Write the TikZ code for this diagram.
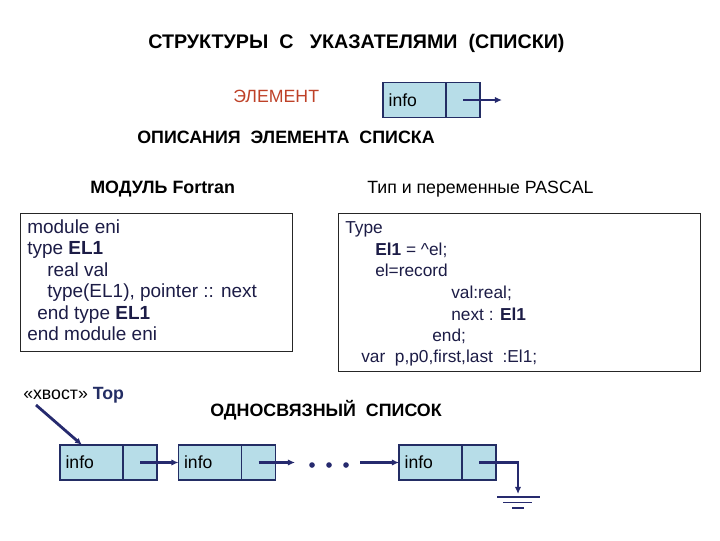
\documentclass[tikz,border=0pt]{standalone}
\usepackage{fontspec}
\setmainfont{Liberation Sans}
\usetikzlibrary{arrows.meta,positioning,calc}

\definecolor{boxfill}{RGB}{183,221,232}
\definecolor{boxline}{RGB}{35,45,100}
\definecolor{linkcol}{RGB}{38,42,110}
\definecolor{codecol}{RGB}{28,28,70}
\definecolor{elemred}{RGB}{190,65,40}

\tikzset{
  infocell/.style={draw=boxline,fill=boxfill,line width=1pt,outer sep=0pt,
    minimum height=0.875cm,text width=1.295cm,inner xsep=0.14cm,align=left,
    font=\fontsize{12.5}{14}\selectfont},
  ptrcell/.style={draw=boxline,fill=boxfill,line width=1pt,outer sep=0pt,
    minimum height=0.875cm,minimum width=0.85cm},
  link/.style={draw=linkcol,line width=1.5pt,-{Latex[length=5pt,width=4.5pt]}},
  head/.style={anchor=base west,inner sep=0pt,font=\bfseries\fontsize{12.7}{15}\selectfont},
  plain/.style={anchor=base west,inner sep=0pt,font=\fontsize{12.6}{15}\selectfont},
  fcode/.style={anchor=base west,inner sep=0pt,text=codecol,font=\fontsize{13.5}{15}\selectfont},
  pcode/.style={anchor=base west,inner sep=0pt,text=codecol,font=\fontsize{12.3}{15}\selectfont},
  codebox/.style={draw=black!85,line width=0.7pt},
}

\begin{document}
\begin{tikzpicture}[x=0.025cm,y=-0.025cm]
  \useasboundingbox (0,0) rectangle (720,540);
  % заголовок
  \node[head,font=\bfseries\fontsize{14}{16}\selectfont] (title) at (148,48)
    {СТРУКТУРЫ\ \ С\ \ \ УКАЗАТЕЛЯМИ\ \ (СПИСКИ)};
  % один элемент списка
  \node[plain,text=elemred] (elem) at (233,102) {ЭЛЕМЕНТ};
  \node[infocell] (e0) at (414.5,100) {info};
  \node[ptrcell,right=0pt of e0] (p0) {};
  \coordinate (p0end) at (502,100);
  \draw[link] (p0.center) -- (p0end);
  \node[head] (descr) at (137,143) {ОПИСАНИЯ\ \ ЭЛЕМЕНТА\ \ СПИСКА};
  % описание на Fortran
  \node[head] (fhead) at (90,193) {МОДУЛЬ Fortran};
  \draw[codebox] (20,213) rectangle (292,351);
  \node[fcode] (f1) at (27,233) {module eni};
  \node[fcode] (f2) at (27,254) {type \textbf{EL1}};
  \node[fcode] (f3) at (47,276) {real val};
  \node[fcode] (f4) at (47,297) {type(EL1), pointer :: next};
  \node[fcode] (f5) at (37,319) {end type \textbf{EL1}};
  \node[fcode] (f6) at (27,340) {end module eni};
  % описание на Pascal
  \node[plain] (phead) at (367,193) {Тип и переменные PASCAL};
  \draw[codebox] (338,213) rectangle (700,371);
  \node[pcode] (q1) at (345,233) {Type};
  \node[pcode] (q2) at (375,255) {\textbf{El1} = \textasciicircum el;};
  \node[pcode] (q3) at (375,276) {el=record};
  \node[pcode] (q4) at (451,298) {val:real;};
  \node[pcode] (q5) at (451,320) {next : \textbf{El1}};
  \node[pcode] (q6) at (432,341) {end;};
  \node[pcode] (q7) at (361,362) {var\ \ p,p0,first,last\ \ :El1;};
  % односвязный список
  \node[plain] (tail) at (23,399) {«хвост» \textcolor{boxline}{\textbf{Top}}};
  \node[head] (lhead) at (210,416) {ОДНОСВЯЗНЫЙ\ \ СПИСОК};
  \node[infocell] (e1) at (91.5,462.5) {info};
  \node[ptrcell,right=0pt of e1] (p1) {};
  \node[infocell] (e2) at (210,462.5) {info};
  \node[ptrcell,right=0pt of e2] (p2) {};
  \node[infocell] (e3) at (430.5,462.5) {info};
  \node[ptrcell,right=0pt of e3] (p3) {};
  \coordinate (tailstart) at (36,405);
  \draw[link,line width=2pt] (tailstart) -- ($(e1.north west)+(22,0)$);
  \draw[link] (p1.center) -- (e2.west);
  % многоточие между элементами
  \coordinate (dotsin) at (295,462.5);
  \coordinate (dotsout) at (360,462.5);
  \draw[link] (p2.center) -- (dotsin);
  \fill[linkcol] (312,465) circle (2pt) (329,465) circle (2pt) (346,465) circle (2pt);
  \draw[link] (dotsout) -- (e3.west);
  % последний элемент указывает на nil (земля)
  \coordinate (gnd) at (518,494);
  \draw[link] (p3.center) -| (gnd);
  \draw[linkcol,line width=1.2pt] (497,497) -- (540,497);
  \draw[linkcol,line width=1.2pt] (503,502.5) -- (532,502.5);
  \draw[linkcol,line width=1.2pt] (512,508) -- (524,508);
\end{tikzpicture}
\end{document}
